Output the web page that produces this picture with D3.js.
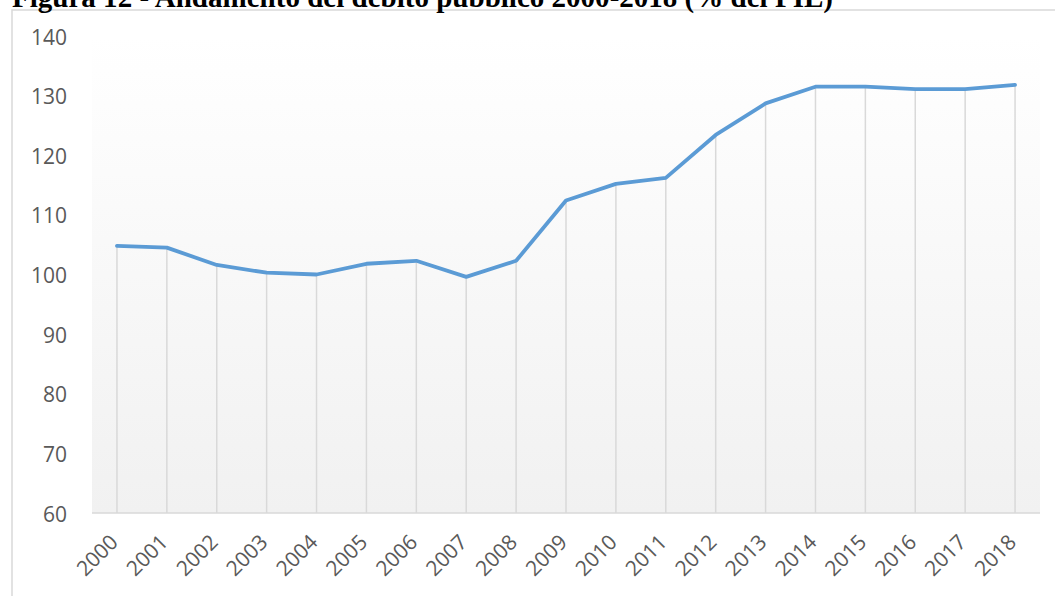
<!DOCTYPE html>
<html><head><meta charset="utf-8">
<script src="https://cdn.jsdelivr.net/npm/d3@7"></script>
<style>html,body{margin:0;padding:0;background:#fff;overflow:hidden}</style>
</head><body>
<svg id="c" width="1055" height="596"></svg>
<script>
const years = ["2000","2001","2002","2003","2004","2005","2006","2007","2008","2009","2010","2011","2012","2013","2014","2015","2016","2017","2018"];
const debt = [104.8,104.5,101.6,100.3,100.0,101.8,102.3,99.6,102.3,112.4,115.2,116.2,123.4,128.7,131.5,131.5,131.1,131.1,131.8];
const yTicks = [60,70,80,90,100,110,120,130,140];
const title = "Figura 12 - Andamento del debito pubblico 2000-2018 (% del PIL)";

const svg = d3.select("#c");
const m = {l:92, r:1040, t:36, b:513};

const defs = svg.append("defs");
const g = defs.append("linearGradient").attr("id","bg").attr("x1",0).attr("y1",0).attr("x2",0).attr("y2",1);
g.append("stop").attr("offset","0%").attr("stop-color","#ffffff");
g.append("stop").attr("offset","100%").attr("stop-color","#f1f1f1");

// border
svg.append("rect").attr("x",12).attr("y",10).attr("width",1200).attr("height",800)
  .attr("fill","#fff").attr("stroke","#d9d9d9").attr("stroke-width",1.5);

// title
svg.append("text").attr("x",12).attr("y",7).attr("font-family","'Liberation Serif','Times New Roman',serif")
  .attr("font-weight","bold").attr("font-size",29).attr("fill","#000")
  .attr("textLength",821).attr("lengthAdjust","spacingAndGlyphs").text(title);

const x = d3.scaleBand().domain(years).range([m.l, m.r]);
const y = d3.scaleLinear().domain([60,140]).range([m.b, m.t]);

svg.append("rect").attr("x",m.l).attr("y",m.t).attr("width",m.r-m.l).attr("height",m.b-m.t).attr("fill","url(#bg)");

const cx = d => x(d) + x.bandwidth()/2;

// drop lines
svg.append("g").selectAll("line").data(years).join("line")
  .attr("x1",d=>cx(d)).attr("x2",d=>cx(d))
  .attr("y1",(d,i)=>y(debt[i])).attr("y2",y(60))
  .attr("stroke","#d9d9d9").attr("stroke-width",1.5);

// base axis
svg.append("line").attr("x1",m.l).attr("x2",m.r).attr("y1",y(60)).attr("y2",y(60))
  .attr("stroke","#d9d9d9").attr("stroke-width",1.5);

// y labels
svg.append("g").selectAll("text").data(yTicks).join("text")
  .attr("x",67).attr("y",d=>y(d)+1).attr("dy","0.36em").attr("text-anchor","end")
  .attr("font-family","'Open Sans',sans-serif").attr("font-size",21).attr("fill","#595959")
  .text(d=>d);

// x labels
svg.append("g").selectAll("text").data(years).join("text")
  .attr("transform",d=>`translate(${cx(d)-8},${y(60)+20}) rotate(-45)`)
  .attr("text-anchor","end").attr("dy","0.7em")
  .attr("font-family","'Open Sans',sans-serif").attr("font-size",21).attr("fill","#595959")
  .text(d=>d);

// line
const line = d3.line().x((d,i)=>cx(years[i])).y(d=>y(d));
svg.append("path").datum(debt).attr("d",line).attr("fill","none")
  .attr("stroke","#5b9bd5").attr("stroke-width",3.8).attr("stroke-linejoin","round").attr("stroke-linecap","round");
</script>
</body></html>
